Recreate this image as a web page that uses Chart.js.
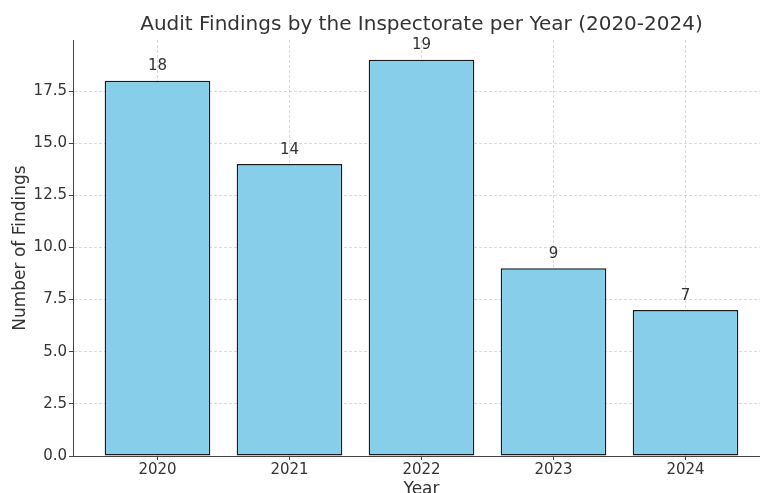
<!DOCTYPE html>
<html>
<head>
<meta charset="utf-8">
<script src="https://cdn.jsdelivr.net/npm/chart.js@4"></script>
<style>
  html, body { margin: 0; padding: 0; background: #fff; overflow: hidden; }
  #wrap { width: 760px; height: 493px; overflow: hidden; }
</style>
</head>
<body>
<div id="wrap"><canvas id="chart" width="770" height="500"></canvas></div>
<script>
const years = ['2020', '2021', '2022', '2023', '2024'];
const findings = [18, 14, 19, 9, 7];
const chartTitle = 'Audit Findings by the Inspectorate per Year (2020-2024)';
const xLabel = 'Year';
const yLabel = 'Number of Findings';

const FONT = "'DejaVu Sans', sans-serif";
const TEXT = '#333';
const GRID = 'rgba(176,176,176,0.6)';

// title centred over the plot area, like matplotlib does
const titlePlugin = {
  id: 'axTitle',
  afterDraw(chart) {
    const { ctx, chartArea } = chart;
    ctx.save();
    ctx.font = '20px ' + FONT;
    ctx.fillStyle = TEXT;
    ctx.textAlign = 'center';
    ctx.textBaseline = 'middle';
    ctx.fillText(chartTitle, (chartArea.left + chartArea.right) / 2, 25);
    ctx.restore();
  }
};

// value labels just above each bar
const valuePlugin = {
  id: 'values',
  afterDatasetsDraw(chart) {
    const { ctx } = chart;
    const y = chart.scales.y;
    ctx.save();
    ctx.font = '15px ' + FONT;
    ctx.fillStyle = TEXT;
    ctx.textAlign = 'center';
    ctx.textBaseline = 'alphabetic';
    chart.getDatasetMeta(0).data.forEach((bar, i) => {
      ctx.fillText(String(findings[i]), bar.x, y.getPixelForValue(findings[i] + 0.5));
    });
    ctx.restore();
  }
};

new Chart(document.getElementById('chart'), {
  type: 'bar',
  data: {
    datasets: [{
      data: findings.map((v, i) => ({ x: i, y: v })),
      backgroundColor: '#87CEEB',
      borderColor: '#1a1a1a',
      borderWidth: 1.5,
      borderSkipped: false,
      barPercentage: 0.8,
      categoryPercentage: 1
    }]
  },
  options: {
    responsive: false,
    animation: false,
    layout: { padding: { top: 40, right: 0, left: 0, bottom: 0 } },
    plugins: { legend: { display: false }, tooltip: { enabled: false }, title: { display: false } },
    scales: {
      x: {
        type: 'linear',
        offset: false,
        min: -0.64,
        max: findings.length - 1 + 0.64,
        z: 1,
        afterFit: s => { s.height = 44; },
        ticks: {
          stepSize: 1,
          includeBounds: false,
          autoSkip: false,
          maxRotation: 0,
          padding: 1,
          color: TEXT,
          font: { family: FONT, size: 15 },
          callback: v => years[v] ?? ''
        },
        grid: {
          offset: false,
          color: GRID,
          lineWidth: 0.8,
          tickLength: 4,
          tickColor: '#444',
          tickWidth: 1,
          tickBorderDash: []
        },
        border: { display: true, color: '#444', width: 1, dash: [3, 2] },
        title: {
          display: true,
          text: xLabel,
          color: TEXT,
          font: { family: FONT, size: 17 },
          padding: { top: 0, bottom: 0 }
        }
      },
      y: {
        min: 0,
        max: Math.max(...findings) * 1.05,
        z: 1,
        afterFit: s => { s.width = 73; },
        ticks: {
          stepSize: 2.5,
          includeBounds: false,
          padding: 2,
          color: TEXT,
          font: { family: FONT, size: 15 },
          callback: v => v.toFixed(1)
        },
        grid: {
          color: GRID,
          lineWidth: 0.8,
          tickLength: 4,
          tickColor: '#444',
          tickWidth: 1,
          tickBorderDash: []
        },
        border: { display: true, color: '#444', width: 1, dash: [3, 2] },
        title: {
          display: true,
          text: yLabel,
          color: TEXT,
          font: { family: FONT, size: 17 },
          padding: { top: 10, bottom: 0 }
        }
      }
    }
  },
  plugins: [titlePlugin, valuePlugin]
});
</script>
</body>
</html>
